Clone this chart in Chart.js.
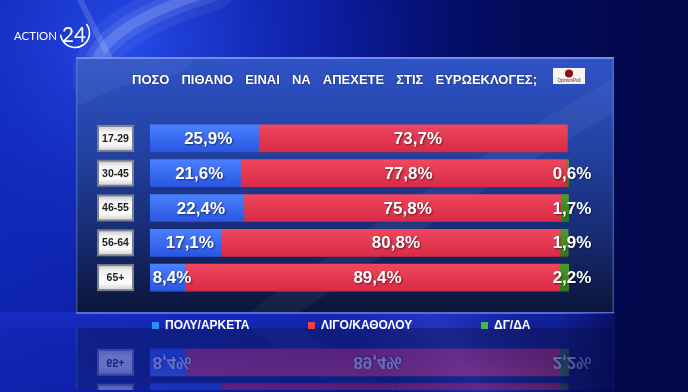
<!DOCTYPE html>
<html>
<head>
<meta charset="utf-8">
<script src="https://cdn.jsdelivr.net/npm/chart.js@4/dist/chart.umd.min.js"></script>
<style>
html,body{margin:0;padding:0;background:#03093f;overflow:hidden;}
canvas{display:block;}
</style>
</head>
<body>
<canvas id="c" width="688" height="392"></canvas>
<script>
// ---- data ----
const ageGroups = ['17-29', '30-45', '46-55', '56-64', '65+'];
const seriesNames = ['ΠΟΛΥ/ΑΡΚΕΤΑ', 'ΛΙΓΟ/ΚΑΘΟΛΟΥ', 'ΔΓ/ΔΑ'];
const muchValues = [25.9, 21.6, 22.4, 17.1, 8.4];
const littleValues = [73.7, 77.8, 75.8, 80.8, 89.4];
const dkValues = [null, 0.6, 1.7, 1.9, 2.2];
const titleText = 'ΠΟΣΟ ΠΙΘΑΝΟ ΕΙΝΑΙ ΝΑ ΑΠΕΧΕΤΕ ΣΤΙΣ ΕΥΡΩΕΚΛΟΓΕΣ;';
const channelName = 'ACTION';
const channelNum = '24';
const pollster = 'OpinionPoll';

// ---- styles ----
const barTop = ['#4a80ff', '#f0465e', '#4c9c2c'];
const barBottom = ['#2a56e2', '#d92b46', '#2f7a18'];
const legendColors = ['#2e8ff5', '#f04444', '#40b848'];
const PANEL = {x: 76, y: 57, w: 538, h: 256};

function fmt(v) { return v.toFixed(1).replace('.', ',') + '%'; }

function barGradient(i) {
  return function(ctx) {
    const chart = ctx.chart;
    const ys = chart.scales && chart.scales.y;
    if (!ys || ctx.dataIndex === undefined) return barBottom[i];
    const yc = ys.getPixelForValue(ctx.dataIndex);
    if (!isFinite(yc)) return barBottom[i];
    const g = chart.ctx.createLinearGradient(0, yc - 13.5, 0, yc + 13.5);
    g.addColorStop(0, barTop[i]);
    g.addColorStop(1, barBottom[i]);
    return g;
  };
}

function fitText(c, text, x, y, width) {
  const w = c.measureText(text).width;
  c.save();
  c.translate(x, y);
  c.scale(width / w, 1);
  c.fillText(text, 0, 0);
  c.restore();
}

const backgroundPlugin = {
  id: 'bg',
  beforeDraw(chart) {
    const c = chart.ctx;
    const W = chart.width, H = chart.height;
    c.save();
    // base
    let g = c.createLinearGradient(0, 0, W, 0);
    g.addColorStop(0, '#0e24b0');
    g.addColorStop(0.45, '#081690');
    g.addColorStop(0.75, '#030b5a');
    g.addColorStop(1, '#020848');
    c.fillStyle = g;
    c.fillRect(0, 0, W, H);
    // glow top-left
    g = c.createRadialGradient(130, 40, 10, 130, 40, 320);
    g.addColorStop(0, 'rgba(40,80,240,0.85)');
    g.addColorStop(0.5, 'rgba(30,60,220,0.35)');
    g.addColorStop(1, 'rgba(20,40,200,0)');
    c.fillStyle = g;
    c.fillRect(0, 0, W, H);
    // swooshes
    c.lineCap = 'round';
    const sw = [[0.22, 10], [0.12, 22], [0.08, 40]];
    sw.forEach(([a, lw]) => {
      c.strokeStyle = 'rgba(190,210,255,' + a + ')';
      c.lineWidth = lw;
      c.beginPath();
      c.moveTo(215, -10);
      c.bezierCurveTo(150, 10, 80, 40, 95, 90);
      c.stroke();
    });
    c.strokeStyle = 'rgba(200,220,255,0.18)';
    c.lineWidth = 6;
    c.beginPath();
    c.moveTo(78, -5);
    c.bezierCurveTo(90, 20, 100, 40, 112, 62);
    c.stroke();
    // bottom band under panel
    g = c.createLinearGradient(0, 312, 0, H);
    g.addColorStop(0, 'rgba(30,50,210,0.6)');
    g.addColorStop(1, 'rgba(20,30,160,0.25)');
    c.fillStyle = g;
    c.fillRect(0, 312, 615, H - 312);
    g = c.createLinearGradient(380, 392, 520, 300);
    g.addColorStop(0, 'rgba(60,70,255,0)');
    g.addColorStop(0.5, 'rgba(80,80,255,0.35)');
    g.addColorStop(1, 'rgba(60,70,255,0)');
    c.fillStyle = g;
    c.fillRect(300, 312, 300, 80);

    // panel
    const P = PANEL;
    g = c.createLinearGradient(0, P.y, 0, P.y + P.h);
    g.addColorStop(0, '#3053c8');
    g.addColorStop(0.35, '#2342a3');
    g.addColorStop(0.7, '#172b72');
    g.addColorStop(1, '#0b1438');
    c.fillStyle = g;
    c.fillRect(P.x, P.y, P.w, P.h);
    // faint diagonal streak on panel
    c.save();
    c.beginPath(); c.rect(P.x, P.y, P.w, P.h); c.clip();
    c.strokeStyle = 'rgba(200,220,255,0.06)';
    c.lineWidth = 30;
    c.beginPath(); c.moveTo(250, 330); c.bezierCurveTo(400, 220, 520, 150, 640, 80); c.stroke();
    c.strokeStyle = 'rgba(200,220,255,0.06)';
    c.lineWidth = 50;
    c.beginPath(); c.moveTo(76, 80); c.bezierCurveTo(110, 60, 140, 55, 170, 50); c.stroke();
    c.restore();
    // panel borders
    c.fillStyle = 'rgba(120,150,240,0.9)';
    c.fillRect(P.x, P.y, P.w, 2);
    c.fillStyle = 'rgba(90,120,230,0.9)';
    c.fillRect(P.x, P.y + P.h - 1, P.w, 2);
    c.fillStyle = 'rgba(100,130,230,0.5)';
    c.fillRect(P.x, P.y, 1.5, P.h);
    c.fillRect(P.x + P.w - 1.5, P.y, 1.5, P.h);

    // channel logo
    c.fillStyle = '#ffffff';
    c.textBaseline = 'alphabetic';
    c.textAlign = 'left';
    c.font = '12px Lato, "Liberation Sans", Arial, sans-serif';
    fitText(c, channelName, 14, 40, 43);
    c.font = '22px Lato, "Liberation Sans", Arial, sans-serif';
    fitText(c, channelNum, 62, 42, 24);
    c.strokeStyle = '#ffffff';
    c.lineWidth = 1.6;
    c.beginPath();
    c.arc(75, 33, 14.5, -0.2 * Math.PI, 0.95 * Math.PI);
    c.stroke();

    // title
    const words = titleText.split(' ');
    c.font = 'bold 13px "Liberation Sans", Arial, sans-serif';
    c.fillStyle = '#ffffff';
    const widths = words.map(w => c.measureText(w).width);
    const total = widths.reduce((a, b) => a + b, 0);
    const tStart = 132, tEnd = 537;
    const gap = (tEnd - tStart - total) / (words.length - 1);
    let x = tStart;
    c.textBaseline = 'middle';
    c.shadowColor = 'rgba(0,0,0,0.5)';
    c.shadowBlur = 2;
    words.forEach((w, i) => { c.fillText(w, x, 80); x += widths[i] + gap; });
    c.shadowBlur = 0;

    // pollster logo
    c.fillStyle = '#f4f4f4';
    c.fillRect(553, 68, 32, 16);
    c.fillStyle = '#8a1010';
    c.beginPath(); c.arc(569, 73.5, 4, 0, Math.PI * 2); c.fill();
    c.fillStyle = '#5a1a1a';
    c.font = '4.5px "Liberation Sans", Arial, sans-serif';
    c.textAlign = 'center';
    c.fillText(pollster, 569, 81);
    c.restore();
  }
};

const labelsPlugin = {
  id: 'vals',
  afterDatasetsDraw(chart) {
    const c = chart.ctx;
    const ys = chart.scales.y;
    c.save();
    // age boxes
    ageGroups.forEach((a, i) => {
      const yc = ys.getPixelForValue(i);
      const bx = 97, bw = 37, bh = 27, by = yc - bh / 2;
      c.fillStyle = '#7c808a';
      c.fillRect(bx, by, bw, bh);
      const g = c.createLinearGradient(0, by, 0, by + bh);
      g.addColorStop(0, '#bfc2c8');
      g.addColorStop(0.25, '#f2f2f2');
      g.addColorStop(0.7, '#fdfdfd');
      g.addColorStop(1, '#c6c9cf');
      c.fillStyle = g;
      c.fillRect(bx + 2, by + 2, bw - 4, bh - 4);
      c.fillStyle = '#1d1d1d';
      c.font = 'bold 10.5px "Liberation Sans", Arial, sans-serif';
      c.textAlign = 'center';
      c.textBaseline = 'middle';
      c.fillText(a, bx + bw / 2, yc + 0.5);
    });
    // value labels
    c.font = 'bold 17px "Liberation Sans", Arial, sans-serif';
    c.fillStyle = '#ffffff';
    c.textBaseline = 'middle';
    c.textAlign = 'center';
    c.shadowColor = 'rgba(0,0,0,0.55)';
    c.shadowBlur = 2;
    c.shadowOffsetX = 1;
    c.shadowOffsetY = 1;
    chart.data.datasets.forEach((ds, di) => {
      const meta = chart.getDatasetMeta(di);
      meta.data.forEach((el, i) => {
        const v = ds.data[i];
        if (v === null || v === undefined || v === 0) return;
        let x;
        if (di === 2) x = chart.chartArea.right + 3;
        else if (di === 1) x = (el.x + el.base) / 2 + 5;
        else x = Math.max((el.x + el.base) / 2 + 4, el.base + 22);
        c.fillText(fmt(v), x, el.y + 1);
      });
    });
    c.restore();
  },
  afterDraw(chart) {
    const c = chart.ctx;
    const canvas = chart.canvas;
    // reflection of the bottom of the panel
    const tmp = document.createElement('canvas');
    tmp.width = 688; tmp.height = 64;
    const t = tmp.getContext('2d');
    t.drawImage(canvas, 0, 250, 688, 64, 0, 0, 688, 64);
    c.save();
    c.beginPath(); c.rect(0, 328, 688, 64); c.clip();
    c.globalAlpha = 0.36;
    c.translate(0, 640);
    c.scale(1, -1);
    c.drawImage(tmp, 0, 0, 688, 64, 0, 250, 688, 64);
    c.restore();
    // dark right side of reflection area
    c.save();
    const g = c.createLinearGradient(560, 0, 688, 0);
    g.addColorStop(0, 'rgba(2,8,72,0)');
    g.addColorStop(0.4, 'rgba(2,8,72,0.6)');
    g.addColorStop(1, 'rgba(2,8,72,0.85)');
    c.fillStyle = g;
    c.fillRect(560, 313, 128, 79);
    c.restore();

    // legend
    c.save();
    const sq = [152, 308, 481];
    c.font = 'bold 12px "Liberation Sans", Arial, sans-serif';
    c.textBaseline = 'middle';
    c.textAlign = 'left';
    seriesNames.forEach((n, i) => {
      c.fillStyle = legendColors[i];
      c.fillRect(sq[i], 322, 7, 7);
      c.fillStyle = '#ffffff';
      c.fillText(n, sq[i] + 13, 326);
    });
    c.restore();
  }
};

new Chart(document.getElementById('c'), {
  type: 'bar',
  data: {
    labels: ageGroups,
    datasets: [
      {label: seriesNames[0], data: muchValues, backgroundColor: barGradient(0)},
      {label: seriesNames[1], data: littleValues, backgroundColor: barGradient(1)},
      {label: seriesNames[2], data: dkValues, backgroundColor: barGradient(2)}
    ]
  },
  options: {
    indexAxis: 'y',
    responsive: false,
    animation: false,
    layout: {padding: {left: 150, right: 119, top: 121, bottom: 97}},
    datasets: {bar: {barThickness: 27, borderWidth: 0, borderSkipped: false}},
    scales: {
      x: {stacked: true, min: 0, max: 100, display: false},
      y: {stacked: true, display: false}
    },
    plugins: {legend: {display: false}, tooltip: {enabled: false}, title: {display: false}}
  },
  plugins: [backgroundPlugin, labelsPlugin]
});
</script>
</body>
</html>
